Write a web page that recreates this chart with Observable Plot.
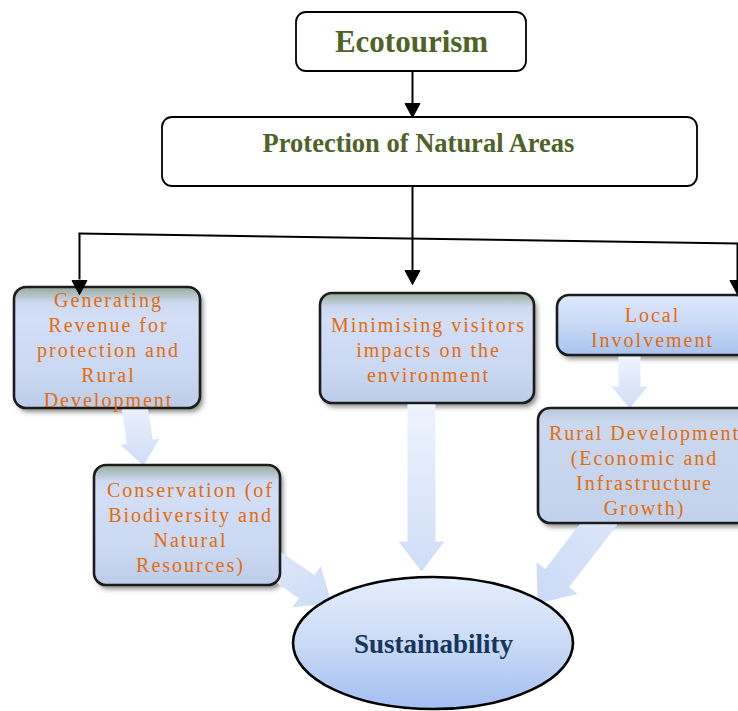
<!DOCTYPE html>
<html><head><meta charset="utf-8">
<script src="https://cdn.jsdelivr.net/npm/d3@7"></script>
<script src="https://cdn.jsdelivr.net/npm/@observablehq/plot@0.6"></script>
<style>body{margin:0;background:#fff;overflow:hidden}</style>
</head><body><div id="chart"></div>
<script>
// ---- content ----
const titleLabels = ["Ecotourism", "Protection of Natural Areas"];
const boxLabels = [
  "Generating\nRevenue for\nprotection and\nRural\nDevelopment",
  "Minimising visitors\nimpacts on the\nenvironment",
  "Local\nInvolvement",
  "Rural Development\n(Economic and\nInfrastructure\nGrowth)",
  "Conservation (of\nBiodiversity and\nNatural\nResources)"
];
const goalLabel = "Sustainability";
// flows between boxes (index into boxLabels, -1 = goal)
const flowFrom = [0, 1, 2, 4, 3];
const flowTo   = [4, -1, 3, -1, -1];

// ---- layout (diagram geometry) ----
const titleBox = [
  {x1: 296, x2: 526, y1: 12,  y2: 71,  tx: 411, ty: 42,  size: 31},
  {x1: 162, x2: 697, y1: 117, y2: 186, tx: 418, ty: 143, size: 26.5}
];
const boxGeom = [
  {x1: 14,  x2: 200, y1: 287, y2: 408, tx: 108, ty: 348, g: "gA"},
  {x1: 320, x2: 534, y1: 293, y2: 403, tx: 428, ty: 348, g: "gA"},
  {x1: 557, x2: 748, y1: 295, y2: 355, tx: 652, ty: 326, g: "gB"},
  {x1: 538, x2: 750, y1: 408, y2: 523, tx: 644, ty: 468.5, g: "gC"},
  {x1: 94,  x2: 280, y1: 465, y2: 585, tx: 190, ty: 525.5, g: "gA"}
];
const goalGeom = {x1: 293, x2: 573, y1: 577, y2: 709, tx: 433, ty: 644};
const flowGeom = [
  {s: [133, 400], t: [143, 465], w: 26, hw: 40, hl: 24, g: "aV"},
  {s: [421, 403], t: [421, 571], w: 28, hw: 46, hl: 30, g: "aV"},
  {s: [629, 356], t: [629, 408], w: 22, hw: 36, hl: 22, g: "aV"},
  {s: [262, 556], t: [331, 603], w: 28, hw: 50, hl: 30, g: "aR"},
  {s: [605, 515], t: [537, 603], w: 30, hw: 52, hl: 32, g: "aL"}
];
const connectors = [
  {x1: 412, y1: 71,  x2: 412, y2: 104},
  {x1: 412, y1: 186, x2: 412, y2: 270},
  {x1: 78,  y1: 233, x2: 738, y2: 243},
  {x1: 79,  y1: 233, x2: 79,  y2: 279},
  {x1: 737, y1: 243, x2: 737, y2: 280}
];
const heads = [[412, 117], [412, 284], [79, 294], [737, 294]];

function blockArrow(id, [x0, y0], [x1, y1], w, hw, hl) {
  const dx = x1 - x0, dy = y1 - y0, L = Math.hypot(dx, dy);
  const ux = dx / L, uy = dy / L, nx = -uy, ny = ux;
  const bx = x1 - ux * hl, by = y1 - uy * hl;
  const pts = [
    [x0 + nx * w / 2, y0 + ny * w / 2], [bx + nx * w / 2, by + ny * w / 2],
    [bx + nx * hw / 2, by + ny * hw / 2], [x1, y1],
    [bx - nx * hw / 2, by - ny * hw / 2], [bx - nx * w / 2, by - ny * w / 2],
    [x0 - nx * w / 2, y0 - ny * w / 2], [x0 + nx * w / 2, y0 + ny * w / 2]
  ];
  return pts.map(([x, y]) => ({id, x, y}));
}
function headTri(id, [x, y]) {
  return [[x, y], [x - 7.5, y - 14], [x + 7.5, y - 14], [x, y]].map(([a, b]) => ({id, x: a, y: b}));
}

const titles = titleLabels.map((label, i) => ({label, ...titleBox[i]}));
const boxes = boxLabels.map((label, i) => ({label, ...boxGeom[i]}));
const goal = [{label: goalLabel, ...goalGeom}];

const serif = "'Liberation Serif','Times New Roman',serif";
const SHADOW = "#3a3a3a", ORANGE = "#e46c0a";
const marks = [];

// shadows
marks.push(Plot.rect(boxes, {x1: "x1", x2: "x2", y1: "y1", y2: "y2", dx: 3, dy: 4, rx: 12, fill: SHADOW, fillOpacity: 0.6}));
// block arrows
flowFrom.forEach((f, i) => {
  const a = flowGeom[i];
  marks.push(Plot.line(blockArrow(i, a.s, a.t, a.w, a.hw, a.hl), {x: "x", y: "y", fill: `url(#${a.g})`, stroke: "none"}));
});
// title boxes
marks.push(Plot.rect(titles, {x1: "x1", x2: "x2", y1: "y1", y2: "y2", rx: 10, fill: "white", stroke: "black", strokeWidth: 1.8}));
// boxes
boxes.forEach(b => marks.push(Plot.rect([b], {x1: "x1", x2: "x2", y1: "y1", y2: "y2", rx: 12, fill: `url(#${b.g})`, stroke: "#1c1c1c", strokeWidth: 2.6})));
// goal ellipse
marks.push(Plot.rect(goal, {x1: "x1", x2: "x2", y1: "y1", y2: "y2", rx: 140, ry: 66, fill: "url(#gE)", stroke: "black", strokeWidth: 2.6}));
// texts
marks.push(Plot.text(titles, {x: "tx", y: "ty", text: "label", fill: "#4f6228", fontWeight: "bold", fontFamily: serif, fontSize: d => d.size}));
marks.push(Plot.text(boxes, {x: "tx", y: "ty", text: "label", fill: ORANGE, fontFamily: serif, fontSize: 20, lineHeight: 1.25}));
marks.push(Plot.text(goal, {x: "tx", y: "ty", text: "label", fill: "#17365d", fontWeight: "bold", fontFamily: serif, fontSize: 27}));
// black connectors
marks.push(Plot.link(connectors, {x1: "x1", y1: "y1", x2: "x2", y2: "y2", stroke: "black", strokeWidth: 2}));
heads.forEach((h, i) => marks.push(Plot.line(headTri(i, h), {x: "x", y: "y", fill: "black", stroke: "black", strokeWidth: 1})));

const plot = Plot.plot({
  width: 738, height: 711, margin: 0,
  x: {domain: [0, 738], range: [0, 738], axis: null},
  y: {domain: [0, 711], range: [0, 711], axis: null},
  style: {overflow: "hidden", background: "white"},
  marks
});

const svg = d3.select(plot);
const defs = svg.insert("defs", ":first-child");
function lg(id, x1, y1, x2, y2, stops) {
  const g = defs.append("linearGradient").attr("id", id).attr("x1", x1).attr("y1", y1).attr("x2", x2).attr("y2", y2);
  stops.forEach(([o, c]) => g.append("stop").attr("offset", o).attr("stop-color", c));
}
lg("gA", 0, 0, 0, 1, [[0, "#98aa9a"], [0.13, "#cdd9f1"], [0.25, "#d3def7"], [0.7, "#cbd8f2"], [1, "#bccce9"]]);
lg("gB", 0, 0, 0, 1, [[0, "#dfe8fc"], [0.5, "#c8d8f6"], [1, "#a9c3f0"]]);
lg("gC", 0, 0, 0, 1, [[0, "#b9c8d8"], [0.12, "#cbd8ef"], [1, "#c3d2ec"]]);
lg("gE", 0, 0, 0, 1, [[0, "#e6eefc"], [0.5, "#cbdaf6"], [1, "#a3bff1"]]);
lg("aV", 0, 0, 0, 1, [[0, "#eef3fd"], [1, "#cfddf6"]]);
lg("aR", 0, 0, 1, 1, [[0, "#e2eafa"], [1, "#ccdbf6"]]);
lg("aL", 1, 0, 0, 1, [[0, "#dce6f9"], [1, "#ccdaf6"]]);
defs.append("filter").attr("id", "blur").attr("x", "-20%").attr("y", "-20%").attr("width", "140%").attr("height", "140%")
  .append("feGaussianBlur").attr("stdDeviation", 2.5);
svg.selectAll("g").filter(function() { return this.getAttribute("fill") === SHADOW; }).attr("filter", "url(#blur)");
svg.selectAll("g").filter(function() { return this.getAttribute("fill") === ORANGE; }).style("letter-spacing", "2px");

document.getElementById("chart").appendChild(plot);
</script>
</body></html>
